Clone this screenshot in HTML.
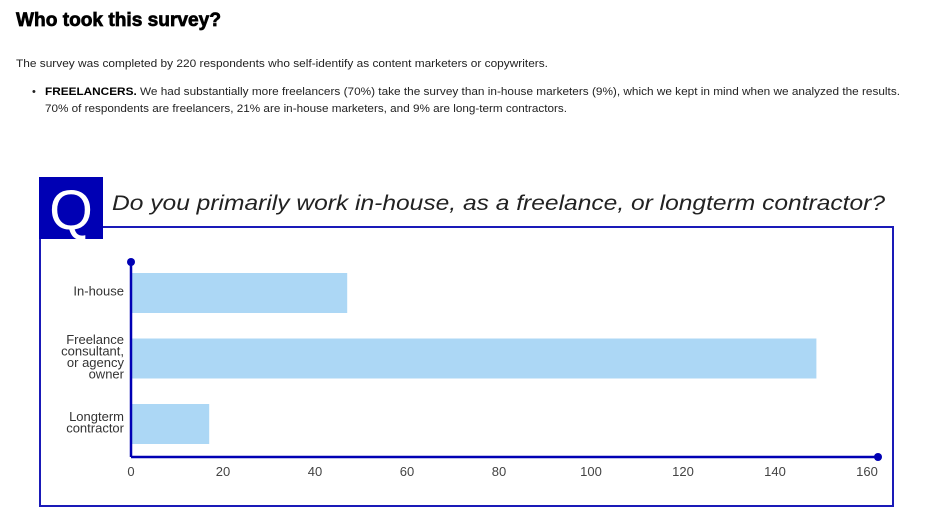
<!DOCTYPE html>
<html><head><meta charset="utf-8"><style>
html,body{margin:0;padding:0;background:#fff;}
svg{display:block;font-family:"Liberation Sans",sans-serif;}
</style></head><body>
<svg width="936" height="523" viewBox="0 0 936 523">
<text x="16" y="26" font-size="19" font-weight="bold" fill="#000" stroke="#000" stroke-width="0.7" textLength="205" lengthAdjust="spacingAndGlyphs">Who took this survey?</text>
<text x="16" y="67" font-size="11" fill="#222" textLength="532" lengthAdjust="spacingAndGlyphs">The survey was completed by 220 respondents who self-identify as content marketers or copywriters.</text>
<text x="32" y="95" font-size="11" fill="#222">•</text>
<text x="45" y="95" font-size="11" fill="#222" textLength="855" lengthAdjust="spacingAndGlyphs"><tspan font-weight="bold" fill="#000">FREELANCERS.</tspan> We had substantially more freelancers (70%) take the survey than in-house marketers (9%), which we kept in mind when we analyzed the results.</text>
<text x="45" y="112" font-size="11" fill="#222" textLength="522" lengthAdjust="spacingAndGlyphs">70% of respondents are freelancers, 21% are in-house marketers, and 9% are long-term contractors.</text>

<rect x="40" y="227" width="853" height="279" fill="none" stroke="#1a1ab8" stroke-width="2"/>
<rect x="39" y="177" width="64" height="62" fill="#0000b4"/>
<text x="71" y="229" font-size="56" fill="#fff" text-anchor="middle">Q</text>
<text x="112" y="210" font-size="21" font-style="italic" fill="#222" textLength="773" lengthAdjust="spacingAndGlyphs">Do you primarily work in-house, as a freelance, or longterm contractor?</text>
<g id="plot"></g>
</svg>
<script>
const categories = [["In-house"], ["Freelance","consultant,","or agency","owner"], ["Longterm","contractor"]];
const values = [47, 149, 17];
const ticks = [0, 20, 40, 60, 80, 100, 120, 140, 160];
const NS = "http://www.w3.org/2000/svg";
const g = document.getElementById("plot");
const x0 = 131, xPer = 4.6, barH = 40, rowStart = 273, rowStep = 65.5, axisY = 457;
function xs(v){ return x0 + v * xPer; }
function yb(i){ return rowStart + i * rowStep; }
function mk(tag, attrs){ const e = document.createElementNS(NS, tag); for (const k in attrs) e.setAttribute(k, attrs[k]); g.appendChild(e); return e; }
values.forEach((v, i) => {
  const r = mk("rect", {x: xs(0), y: yb(i), width: xs(v) - xs(0), height: barH, fill: "#acd7f5"});
  
  
  const lines = categories[i];
  const lh = 11.5;
  const cy = yb(i) + barH / 2 - 2;
  lines.forEach((ln, j) => {
    const t = mk("text", {x: 124, y: cy - (lines.length - 1) * lh / 2 + j * lh + 4.5, "font-size": 13, fill: "#333", "text-anchor": "end"});
    t.textContent = ln;
    
    
  });
});
const ya = mk("line", {x1: x0, y1: 262, x2: x0, y2: axisY, stroke: "#0000b4", "stroke-width": 2.5});


const xa = mk("line", {x1: x0, y1: axisY, x2: 878, y2: axisY, stroke: "#0000b4", "stroke-width": 2.5});


const d1 = mk("circle", {cx: x0, cy: 262, r: 4, fill: "#0000b4"});


const d2 = mk("circle", {cx: 878, cy: axisY, r: 4, fill: "#0000b4"});


ticks.forEach(tv => {
  const t = mk("text", {x: xs(tv), y: 476, "font-size": 13, fill: "#444", "text-anchor": "middle"});
  t.textContent = tv;
  
  
});
</script>
</body></html>
